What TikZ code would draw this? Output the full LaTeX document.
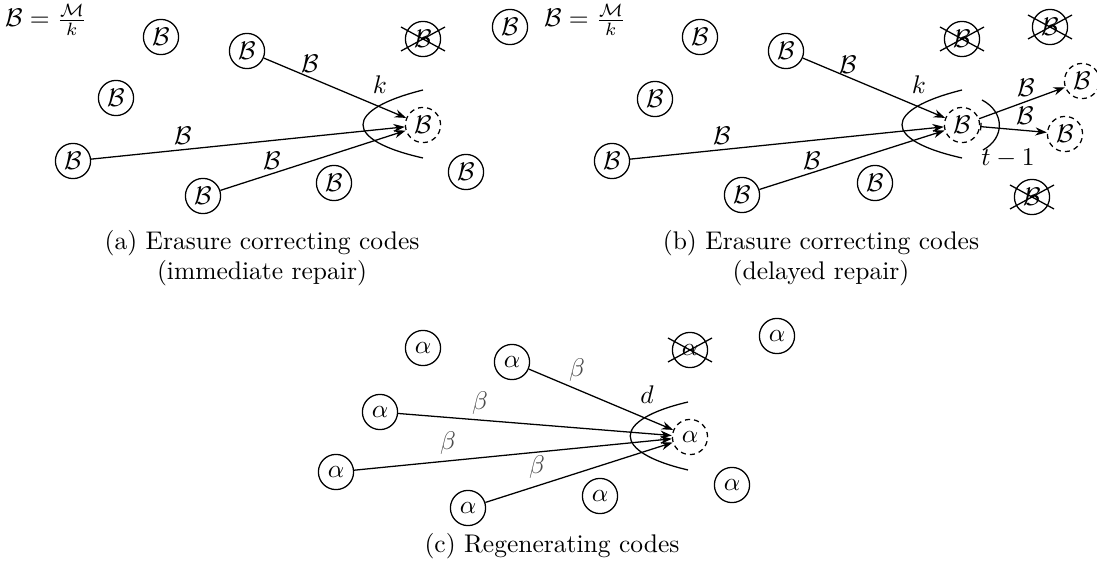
\documentclass[tikz,border=0pt]{standalone}
\usetikzlibrary{arrows.meta}
\tikzset{
  nd/.style={circle,draw,inner sep=0pt,minimum size=13.8pt,line width=0.5pt},
  dnd/.style={nd,dash pattern=on 2pt off 1.6pt},
  lbl/.style={inner sep=0pt},
  lblb/.style={inner sep=0pt,text=black!70},
  arr/.style={-{Stealth[length=4.5pt,width=3.2pt]},line width=0.5pt},
  barr/.style={{Bar[width=3pt]}-{Stealth[length=4.5pt,width=3.2pt]},line width=0.5pt},
  crv/.style={line width=0.5pt},
  xline/.style={line width=0.5pt}
}
\newcommand\crossnode[1]{%
  \draw[xline] ([shift={(-22,-12)}]#1.center) -- ([shift={(22,12)}]#1.center);
  \draw[xline] ([shift={(-22,12)}]#1.center) -- ([shift={(22,-12)}]#1.center);}
\begin{document}
\begin{tikzpicture}[x=0.392pt,y=-0.392pt]
\useasboundingbox (0,0) rectangle (1097,565);
% ---------------- panel (a)
\node[lbl] (fa) at (46,20) {$\mathcal{B}=\frac{\mathcal{M}}{k}$};
\node[nd] (a1) at (161,37) {$\mathcal{B}$};
\node[nd] (a2) at (247,51) {$\mathcal{B}$};
\node[nd] (a3) at (116,98) {$\mathcal{B}$};
\node[nd] (a4) at (73,161) {$\mathcal{B}$};
\node[nd] (a5) at (203,196) {$\mathcal{B}$};
\node[nd] (a6) at (334,183) {$\mathcal{B}$};
\node[nd] (a7) at (466,172) {$\mathcal{B}$};
\node[nd] (a8) at (510,27) {$\mathcal{B}$};
\node[nd] (a9) at (423,39) {$\mathcal{B}$};
\crossnode{a9}
\node[dnd] (at) at (423,125) {$\mathcal{B}$};
\draw[crv] (423,90) .. controls (343,110) and (343,140) .. (423,158);
\draw[arr] (a2) -- (at);
\draw[arr] (a4) -- (at);
\draw[arr] (a5) -- (at);
\node[lbl] (la1) at (310,64) {$\mathcal{B}$};
\node[lbl] (la2) at (183,136) {$\mathcal{B}$};
\node[lbl] (la3) at (272,161) {$\mathcal{B}$};
\node[lbl] (ka) at (380,85) {$k$};
\node[align=center,inner sep=0pt] (capa) at (262,258) {(a) Erasure correcting codes\\(immediate repair)};
% ---------------- panel (b)
\node[lbl] (fb) at (585,20) {$\mathcal{B}=\frac{\mathcal{M}}{k}$};
\node[nd] (b1) at (700,37) {$\mathcal{B}$};
\node[nd] (b2) at (786,51) {$\mathcal{B}$};
\node[nd] (b3) at (655,99) {$\mathcal{B}$};
\node[nd] (b4) at (612,161) {$\mathcal{B}$};
\node[nd] (b5) at (742,195) {$\mathcal{B}$};
\node[nd] (b6) at (875,183) {$\mathcal{B}$};
\node[nd] (b7) at (962,39) {$\mathcal{B}$};
\crossnode{b7}
\node[nd] (b8) at (1050,27) {$\mathcal{B}$};
\crossnode{b8}
\node[nd] (b9) at (1032,197) {$\mathcal{B}$};
\crossnode{b9}
\node[dnd] (bt) at (962,125) {$\mathcal{B}$};
\node[dnd] (bo1) at (1082,81) {$\mathcal{B}$};
\node[dnd] (bo2) at (1065,134) {$\mathcal{B}$};
\draw[crv] (962,90) .. controls (882,110) and (882,140) .. (962,158);
\draw[crv] (982,100) .. controls (1005,112) and (1005,138) .. (983,150);
\draw[arr] (b2) -- (bt);
\draw[arr] (b4) -- (bt);
\draw[arr] (b5) -- (bt);
\draw[arr] (bt) -- (bo1);
\draw[barr] (bt) -- (bo2);
\node[lbl] (lb1) at (848,65) {$\mathcal{B}$};
\node[lbl] (lb2) at (722,136) {$\mathcal{B}$};
\node[lbl] (lb3) at (812,161) {$\mathcal{B}$};
\node[lbl] (lb4) at (1026,88) {$\mathcal{B}$};
\node[lbl] (lb5) at (1025,116) {$\mathcal{B}$};
\node[lbl] (kb) at (919,85) {$k$};
\node[lbl] (tb) at (1008,158) {$t-1$};
\node[align=center,inner sep=0pt] (capb) at (821,258) {(b) Erasure correcting codes\\(delayed repair)};
% ---------------- panel (c)
\node[nd] (c1) at (423,348) {$\alpha$};
\node[nd] (c2) at (512,362) {$\alpha$};
\node[nd] (c3) at (380,412) {$\alpha$};
\node[nd] (c4) at (336,472) {$\alpha$};
\node[nd] (c5) at (468,508) {$\alpha$};
\node[nd] (c6) at (600,496) {$\alpha$};
\node[nd] (c7) at (732,485) {$\alpha$};
\node[nd] (c8) at (777,336) {$\alpha$};
\node[nd] (c9) at (690,350) {$\alpha$};
\crossnode{c9}
\node[dnd] (ct) at (690,437) {$\alpha$};
\draw[crv] (688,402) .. controls (611,420) and (611,452) .. (688,470);
\draw[arr] (c2) -- (ct);
\draw[arr] (c3) -- (ct);
\draw[arr] (c4) -- (ct);
\draw[arr] (c5) -- (ct);
\node[lblb] (lc1) at (577,370) {$\beta$};
\node[lblb] (lc2) at (480,403) {$\beta$};
\node[lblb] (lc3) at (448,443) {$\beta$};
\node[lblb] (lc4) at (537,467) {$\beta$};
\node[lbl] (dc) at (647,395) {$d$};
\node[inner sep=0pt] (capc) at (552,546) {(c) Regenerating codes};
\end{tikzpicture}
\end{document}
